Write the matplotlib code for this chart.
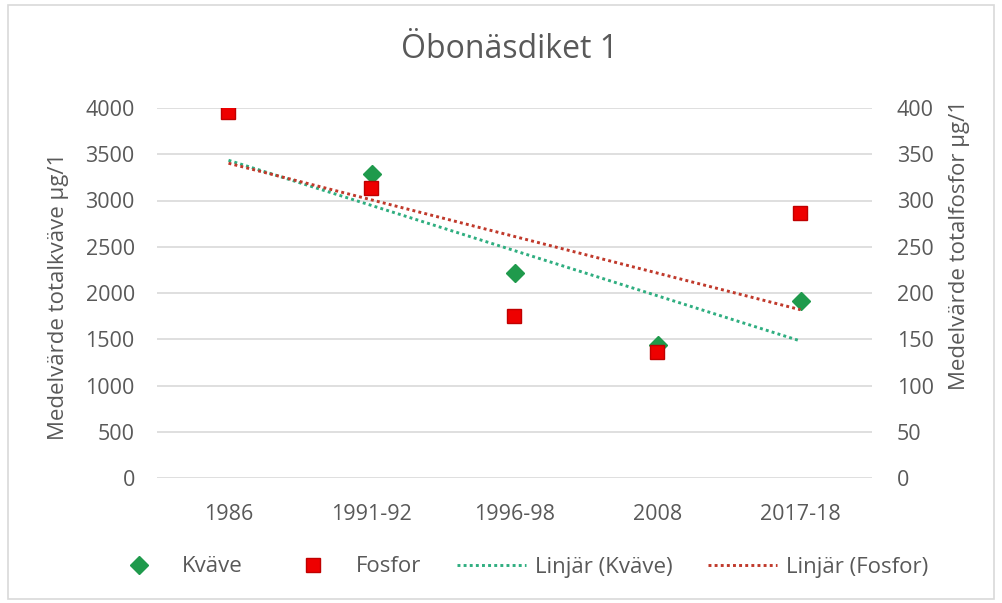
import numpy as np
import matplotlib
matplotlib.use("Agg")
import matplotlib.pyplot as plt
from matplotlib.patches import Rectangle

plt.rcParams['font.family'] = ['Open Sans', 'DejaVu Sans']

# data
periods = ['1986', '1991-92', '1996-98', '2008', '2017-18']
kvave = [np.nan, 3285, 2215, 1440, 1915]      # µg/l, left axis
fosfor = [395.5, 313, 175, 136, 286]          # µg/l, right axis

grey = '#595959'
green = '#1f9a4c'
red = '#ee0000'

fig = plt.figure(figsize=(10.02, 6.03), dpi=100)
ax = fig.add_axes([157/1002, 1-478/603, (872-157)/1002, (478-108)/603])
ax2 = ax.twinx()

x = np.arange(len(periods))

# linear trends (Excel style: fitted on the points that exist, drawn over all categories)
k = np.array(kvave, dtype=float)
ok = ~np.isnan(k)
pk = np.polyfit(x[ok], k[ok], 1)
pf = np.polyfit(x, np.array(fosfor), 1)

ax.plot(x, np.polyval(pk, x), color='#2fae80', lw=2.1, dashes=(1, 1.1), zorder=3)
ax2.plot(x, np.polyval(pf, x), color='#c0392b', lw=2.1, dashes=(1, 1.1), zorder=3)

ax.plot(x, kvave, 'D', color=green, ms=9, zorder=4)
ax2.plot(x, fosfor, 's', color=red, mec='#c00000', ms=10.5, zorder=4)

ax.set_xlim(-0.5, 4.5)
ax.set_ylim(0, 4000)
ax2.set_ylim(0, 400)
ax.set_yticks(range(0, 4001, 500))
ax2.set_yticks(range(0, 401, 50))
ax.set_xticks(x)
ax.set_xticklabels(periods)

ax.grid(axis='y', color='#d9d9d9', lw=1.2)
ax.set_axisbelow(True)
for a in (ax, ax2):
    for s in a.spines.values():
        s.set_visible(False)
    a.tick_params(length=0, labelsize=15.5, labelcolor=grey)
ax.tick_params(axis='x', pad=19)
ax.tick_params(axis='y', pad=16)
ax2.tick_params(axis='y', pad=18)
for lbl in ax2.get_yticklabels():
    lbl.set_horizontalalignment('left')

fig.text(510/1002, 1-50/603, 'Öbonäsdiket 1', ha='center', va='center', fontsize=23, color=grey)
fig.text(59/1002, 1-296/603, 'Medelvärde totalkväve µg/1', rotation=90,
         ha='center', va='center', fontsize=16, color=grey)
fig.text(959/1002, 1-245/603, 'Medelvärde totalfosfor µg/1', rotation=90,
         ha='center', va='center', fontsize=16, color=grey)

h1, = ax.plot([], [], 'D', color=green, ms=9)
h2, = ax.plot([], [], 's', color=red, mec='#c00000', ms=10.5)
h3, = ax.plot([], [], color='#2fae80', lw=2.1, dashes=(1, 1.1))
h4, = ax.plot([], [], color='#c0392b', lw=2.1, dashes=(1, 1.1))
leg = fig.legend([h1, h2, h3, h4], ['Kväve', 'Fosfor', 'Linjär (Kväve)', 'Linjär (Fosfor)'],
                 loc='center', bbox_to_anchor=(516/1002, 1-567/603), ncol=4, frameon=False,
                 fontsize=16, handlelength=3.1, handletextpad=0.4, columnspacing=1.6)
for t in leg.get_texts():
    t.set_color(grey)

fig.patches.append(Rectangle((8/1002, 4/603), 986/1002, 594/603, transform=fig.transFigure,
                             fill=False, edgecolor='#d9d9d9', lw=1.2))

fig.savefig('out.png', dpi=100)
